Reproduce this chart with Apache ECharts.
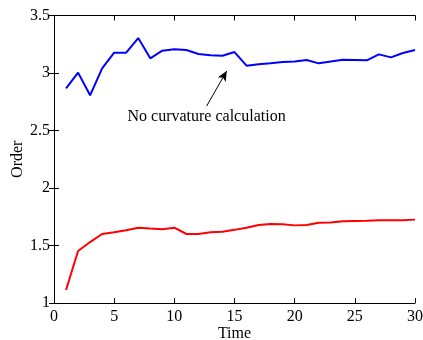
<!DOCTYPE html>
<html>
<head>
<meta charset="utf-8">
<script src="https://cdn.jsdelivr.net/npm/echarts@6/dist/echarts.min.js"></script>
<style>
  html, body { margin: 0; padding: 0; background: #fff; }
  #chart { width: 423px; height: 340px; }
</style>
</head>
<body>
<div id="chart"></div>
<script>
; (function () {

    /* ---- data ---- */
    var times = [1, 2, 3, 4, 5, 6, 7, 8, 9, 10, 11, 12, 13, 14, 15,
                 16, 17, 18, 19, 20, 21, 22, 23, 24, 25, 26, 27, 28, 29, 30];
    var blueOrder = [2.867, 3.003, 2.806, 3.04, 3.177, 3.177, 3.304, 3.128, 3.194, 3.206,
                     3.2, 3.165, 3.154, 3.15, 3.182, 3.064, 3.076, 3.084, 3.096, 3.1,
                     3.113, 3.084, 3.1, 3.116, 3.113, 3.11, 3.162, 3.136, 3.174, 3.2];
    var redOrder = [1.113, 1.452, 1.53, 1.6, 1.615, 1.632, 1.655, 1.647, 1.641, 1.655,
                    1.6, 1.6, 1.615, 1.62, 1.636, 1.655, 1.678, 1.687, 1.684, 1.675,
                    1.678, 1.698, 1.70, 1.71, 1.713, 1.716, 1.72, 1.72, 1.72, 1.725];
    var noteText = 'No curvature calculation';
    var notePos = [12.68, 2.617];
    var arrowFrom = [12.69, 2.713];
    var arrowTo = [14.35, 3.017];

    function pairs(xs, ys) {
        return xs.map(function (x, i) { return [x, ys[i]]; });
    }

    var font = 'Liberation Serif';
    var lineAxis = { show: true, lineStyle: { color: '#000', width: 1 } };
    var tick = { show: true, inside: true, length: 5, lineStyle: { color: '#000' } };

    var myChart = echarts.init(document.getElementById('chart'));

    var option = {
        animation: false,
        backgroundColor: '#fff',
        textStyle: { fontFamily: font },
        grid: { left: 54, right: 8, top: 15.5, bottom: 37, containLabel: false, outerBoundsMode: 'none' },
        xAxis: [
            {
                type: 'value', min: 0, max: 30, interval: 5,
                name: 'Time', nameLocation: 'middle', nameGap: 23, nameMoveOverlap: false,
                nameTextStyle: { fontFamily: font, fontSize: 16, color: '#000' },
                axisLine: lineAxis, axisTick: tick,
                axisLabel: { fontFamily: font, fontSize: 16, color: '#000', margin: 6 },
                splitLine: { show: false }
            },
            {
                type: 'value', min: 0, max: 30, interval: 5, position: 'top',
                axisLine: lineAxis, axisTick: tick,
                axisLabel: { show: false }, splitLine: { show: false }
            }
        ],
        yAxis: [
            {
                type: 'value', min: 1, max: 3.5, interval: 0.5,
                name: 'Order', nameLocation: 'middle', nameGap: 28, nameMoveOverlap: false,
                nameTextStyle: { fontFamily: font, fontSize: 16, color: '#000' },
                axisLine: lineAxis, axisTick: tick,
                axisLabel: { fontFamily: font, fontSize: 16, color: '#000', margin: 4 },
                splitLine: { show: false }
            },
            {
                type: 'value', min: 1, max: 3.5, interval: 0.5, position: 'right',
                axisLine: lineAxis, axisTick: tick,
                axisLabel: { show: false }, splitLine: { show: false }
            }
        ],
        series: [
            {
                name: 'blue',
                type: 'line',
                data: pairs(times, blueOrder),
                showSymbol: false,
                lineStyle: { color: '#0000ff', width: 2 },
                itemStyle: { color: '#0000ff' },
                markLine: {
                    silent: true,
                    symbol: ['none', 'arrow'],
                    symbolSize: [7, 10],
                    label: { show: false },
                    lineStyle: { color: '#000', width: 1, type: 'solid' },
                    data: [[{ coord: arrowFrom }, { coord: arrowTo }]]
                },
                markPoint: {
                    silent: true,
                    symbol: 'circle',
                    symbolSize: 0,
                    label: {
                        show: true, position: 'inside',
                        formatter: noteText,
                        fontFamily: font, fontSize: 16, color: '#000'
                    },
                    data: [{ coord: notePos }]
                }
            },
            {
                name: 'red',
                type: 'line',
                data: pairs(times, redOrder),
                showSymbol: false,
                lineStyle: { color: '#ff0000', width: 2 },
                itemStyle: { color: '#ff0000' }
            }
        ]
    };

    myChart.setOption(option);
}());
</script>
</body>
</html>
